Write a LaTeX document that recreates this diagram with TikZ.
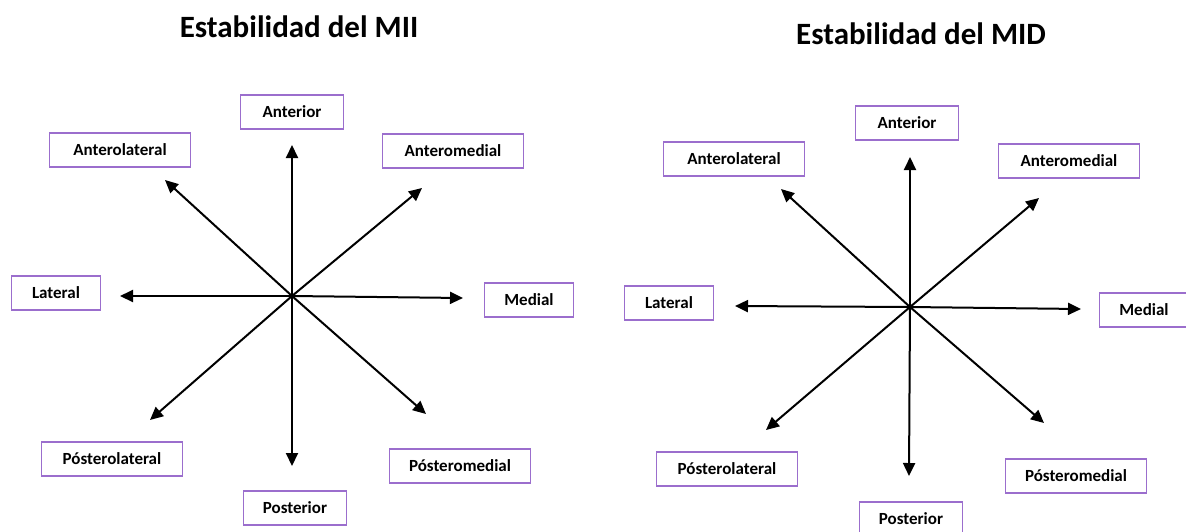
\documentclass[tikz,border=0pt]{standalone}
\usepackage{fontspec}
\setmainfont{Carlito}
\usetikzlibrary{arrows.meta}
\definecolor{boxpurple}{RGB}{155,110,205}
\tikzset{
  lbl/.style={draw=boxpurple, line width=1.3pt, fill=white, inner sep=0pt,
    minimum height=34pt, font=\fontsize{17}{18}\selectfont\bfseries, text=black},
  wbox/.style={lbl, minimum width=141pt},
  mbox/.style={lbl, minimum width=103pt},
  nbox/.style={lbl, minimum width=89pt},
  ttl/.style={font=\fontsize{31}{34}\selectfont\bfseries, inner sep=0pt},
  arr/.style={-{Triangle[length=13pt,width=12pt]}, line width=2pt, draw=black}
}
\begin{document}
\begin{tikzpicture}[x=1pt,y=-1pt]
\useasboundingbox (0,0) rectangle (1186,531);
\fill[white] (0,0) rectangle (1186,531);
% ---------- left diagram ----------
\node[ttl] (t1) at (299,27) {Estabilidad del MII};
\node[mbox] (a1) at (292,112) {Anterior};
\node[wbox] (al1) at (120,150) {Anterolateral};
\node[wbox] (am1) at (453,151) {Anteromedial};
\node[nbox] (l1) at (56,293) {Lateral};
\node[nbox] (m1) at (529,300) {Medial};
\node[wbox] (pl1) at (112,459) {Pósterolateral};
\node[wbox] (pm1) at (460,466) {Pósteromedial};
\node[mbox] (p1) at (295,508) {Posterior};
\coordinate (c1) at (292,296);
\coordinate (u1) at (292,145);
\coordinate (d1) at (292,466);
\coordinate (le1) at (120,296);
\coordinate (r1) at (463,298);
\coordinate (ul1) at (165,180);
\coordinate (ur1) at (422,188);
\coordinate (dl1) at (150,420);
\coordinate (dr1) at (426,414);
\foreach \t in {u1,d1,le1,r1,ul1,ur1,dl1,dr1} \draw[arr] (c1) -- (\t);
% ---------- right diagram ----------
\node[ttl] (t2) at (921,34) {Estabilidad del MID};
\node[mbox] (a2) at (907,123) {Anterior};
\node[wbox] (al2) at (734,159) {Anterolateral};
\node[wbox] (am2) at (1069,161) {Anteromedial};
\node[nbox] (l2) at (669,303) {Lateral};
\node[nbox] (m2) at (1144,310) {Medial};
\node[wbox] (pl2) at (727,469) {Pósterolateral};
\node[wbox] (pm2) at (1076,476) {Pósteromedial};
\node[mbox] (p2) at (911,519) {Posterior};
\coordinate (c2) at (910,307);
\coordinate (u2) at (910,157);
\coordinate (d2) at (909,476);
\coordinate (le2) at (735,306);
\coordinate (r2) at (1081,309);
\coordinate (ul2) at (781,189);
\coordinate (ur2) at (1039,198);
\coordinate (dl2) at (766,430);
\coordinate (dr2) at (1044,423);
\foreach \t in {u2,d2,le2,r2,ul2,ur2,dl2,dr2} \draw[arr] (c2) -- (\t);
\end{tikzpicture}
\end{document}
